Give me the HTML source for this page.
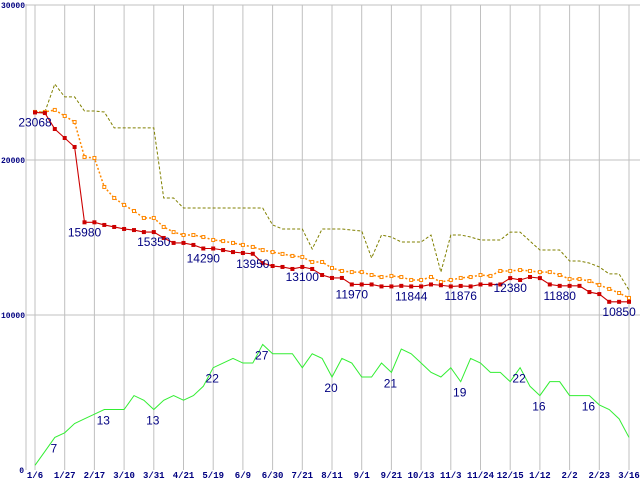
<!DOCTYPE html>
<html><head><meta charset="utf-8"><style>
html,body{margin:0;padding:0;background:#fff;}
svg{display:block;font-family:"Liberation Sans",sans-serif;}
</style></head><body>
<svg id="chart" width="640" height="480" viewBox="0 0 640 480" xmlns="http://www.w3.org/2000/svg">
<g id="grid"></g>
<g id="axes"></g>
<g id="series"></g>
<g id="labels"></g>
</svg>
<script>
const xTickLabels=["1/6","1/27","2/17","3/10","3/31","4/21","5/19","6/9","6/30","7/21","8/11","9/1","9/21","10/13","11/3","11/24","12/15","1/12","2/2","2/23","3/16"];
const yTickValues=[0,10000,20000,30000];
const redValues=[23068,23030,22000,21420,20840,15980,15980,15810,15680,15550,15480,15350,15350,14970,14650,14650,14520,14290,14290,14190,14060,14000,13950,13350,13160,13100,12970,13100,12970,12580,12390,12390,11970,11970,11970,11844,11844,11880,11844,11844,11970,11920,11844,11876,11844,11970,11970,11970,12380,12260,12450,12380,11970,11880,11880,11880,11480,11350,10850,10850,10850];
const orangeValues=[23100,23100,23230,22840,22450,20190,20130,18260,17550,17100,16710,16260,16260,15680,15350,15160,15160,15030,14840,14770,14650,14520,14390,14190,14060,13940,13810,13740,13420,13420,13030,12840,12770,12770,12580,12450,12520,12450,12260,12260,12450,12130,12260,12390,12450,12580,12520,12840,12840,12900,12840,12770,12770,12580,12320,12320,12190,11940,11680,11420,11100];
const oliveValues=[23100,23100,24900,24070,24070,23160,23160,23100,22070,22070,22070,22070,22070,17550,17550,16900,16900,16900,16900,16900,16900,16900,16900,16900,15810,15550,15550,15550,14260,15550,15550,15550,15480,15420,13680,15160,15030,14710,14710,14710,15160,12770,15160,15160,15030,14840,14840,14840,15350,15350,14770,14190,14190,14190,13480,13480,13350,13100,12650,12650,11610];
const greenValues=[1,4,7,8,10,11,12,13,13,13,16,15,13,15,16,15,16,18,22,23,24,23,23,27,25,25,25,22,25,24,20,24,23,20,20,23,21,26,25,23,21,20,22,19,24,23,21,21,19,22,18,16,19,19,16,16,16,14,13,11,7];
const redLabelIdx=[0,5,12,17,22,27,32,38,43,48,53,59];
const greenLabelIdx=[2,7,12,18,23,30,36,43,49,51,56];

const NS="http://www.w3.org/2000/svg";
const X0=35,XSTEP=(629-35)/60,YBOT=470,YTOP=5;
const xOf=i=>X0+i*XSTEP;
const yOf=v=>YBOT-(v/30000)*(YBOT-YTOP);
const yG=v=>YBOT-(v/100)*(YBOT-YTOP);
function mk(tag,attrs,parent){const e=document.createElementNS(NS,tag);for(const k in attrs)e.setAttribute(k,attrs[k]);parent.appendChild(e);return e;}
const grid=document.getElementById('grid'),axes=document.getElementById('axes'),series=document.getElementById('series'),labels=document.getElementById('labels');

yTickValues.forEach(v=>{
  const y=yOf(v);
  if(v>0){const l=mk('line',{x1:26,x2:640,y1:y,y2:y,stroke:'#c0c0c0','stroke-width':1},grid);
  
  }
  const t=mk('text',{x:v==0?24:25,y:y+3,'text-anchor':'end','font-size':8,'font-weight':'bold','font-family':'Liberation Mono,monospace',fill:'#000080'},axes);
  t.textContent=String(v);
  
  
});
xTickLabels.forEach((s,k)=>{
  const x=xOf(k*3);
  const l=mk('line',{x1:x,x2:x,y1:YTOP,y2:YBOT,stroke:'#c0c0c0','stroke-width':1},grid);
  
  
  const t=mk('text',{x:x,y:478,'text-anchor':'middle','font-size':9,'font-weight':'bold','font-family':'Liberation Mono,monospace',fill:'#000080'},axes);
  t.textContent=s;
  
  
});
const ax=mk('line',{x1:26,x2:26,y1:YTOP-1,y2:YBOT,stroke:'#c0c0c0','stroke-width':1},axes);



function poly(vals,yf,attrs,name){
  const p=mk('polyline',Object.assign({points:vals.map((v,i)=>xOf(i)+','+yf(v)).join(' '),fill:'none'},attrs),series);
  
  
}
poly(greenValues,yG,{stroke:'#33ee33','stroke-width':1},'count-line');
poly(oliveValues,yOf,{stroke:'#808000','stroke-width':1,'stroke-dasharray':'3,2'},'max-price-line');
poly(orangeValues,yOf,{stroke:'#ff8800','stroke-width':1.5,'stroke-dasharray':'2,2'},'avg-price-line');
orangeValues.forEach((v,i)=>{
  const r=mk('rect',{x:xOf(i)-1.5,y:yOf(v)-1.5,width:3,height:3,fill:'#fff',stroke:'#ff8800','stroke-width':1},series);
  
  
});
poly(redValues,yOf,{stroke:'#cc0000','stroke-width':1.1},'min-price-line');
redValues.forEach((v,i)=>{
  const r=mk('rect',{x:xOf(i)-2,y:yOf(v)-2,width:4,height:4,fill:'#cc0000'},series);
  
  
});
redLabelIdx.forEach(i=>{
  const t=mk('text',{x:xOf(i),y:yOf(redValues[i])+14,'text-anchor':'middle','font-size':12,fill:'#000080'},labels);
  t.textContent=String(redValues[i]);
  
  
});
greenLabelIdx.forEach(i=>{
  const t=mk('text',{x:xOf(i)-1,y:yG(greenValues[i])+15,'text-anchor':'middle','font-size':12,fill:'#000080'},labels);
  t.textContent=String(greenValues[i]);
  
  
});
</script>
</body></html>
